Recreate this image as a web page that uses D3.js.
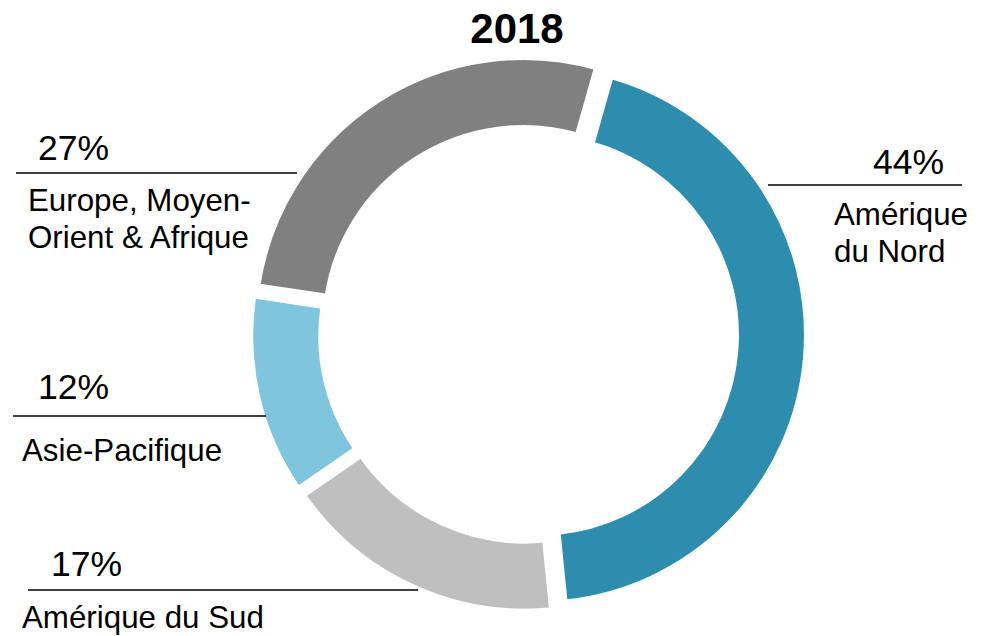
<!DOCTYPE html>
<html>
<head>
<meta charset="utf-8">
<script src="https://cdn.jsdelivr.net/npm/d3@7"></script>
<style>
  body { margin: 0; background: #fff; }
  svg { font-family: "Liberation Sans", Arial, sans-serif; }
</style>
</head>
<body>
<svg id="chart"></svg>
<script>
// data
const regions = ["Amérique du Nord", "Amérique du Sud", "Asie-Pacifique", "Europe, Moyen-Orient & Afrique"];
const shares = [44, 17, 12, 27];
const labelLines = [["Amérique", "du Nord"], ["Amérique du Sud"], ["Asie-Pacifique"], ["Europe, Moyen-", "Orient & Afrique"]];
const colors = ["#2c8daf", "#bfbfbf", "#7ec6de", "#808080"];
const title = "2018";

const W = 999, H = 636;
const cx = 528.5, cy = 334;
const explode = 9.5;
const start = 15.8 * Math.PI / 180;

const svg = d3.select("#chart").attr("width", W).attr("height", H);

svg.append("text")
  .attr("x", 517).attr("y", 43)
  .attr("text-anchor", "middle")
  .attr("font-size", 42).attr("font-weight", "bold")
  .text(title);

const pie = d3.pie().sort(null)
  .startAngle(start)
  .endAngle(start + 2 * Math.PI);

const arc = d3.arc().innerRadius(198.5).outerRadius(268.5);

const slices = pie(shares);

const g = svg.append("g").attr("transform", `translate(${cx},${cy})`);

g.selectAll("path")
  .data(slices)
  .enter()
  .append("path")
   .attr("d", arc)
   .attr("fill", (d, i) => colors[i])
   .attr("stroke", "#fff")
   .attr("stroke-width", 5)
   .attr("transform", d => {
     const a = (d.startAngle + d.endAngle) / 2;
     return `translate(${Math.sin(a) * explode},${-Math.cos(a) * explode})`;
   })
  .append("title")
   .text((d, i) => regions[i]);

// label placement (pct x, pct y, line x1, x2, y, text x, first baseline)
const labelPos = [
  {px: 873, py: 174, x1: 768, x2: 962, ly: 185, tx: 834, ty: 225},
  {px: 51, py: 576, x1: 28, x2: 418, ly: 590, tx: 22, ty: 628},
  {px: 38, py: 399, x1: 13, x2: 266, ly: 416, tx: 22, ty: 461},
  {px: 38, py: 160, x1: 16, x2: 297, ly: 173, tx: 28, ty: 211}
];

const labels = svg.append("g");

slices.forEach((d, i) => {
  const p = labelPos[i];
  labels.append("text")
    .attr("x", p.px).attr("y", p.py)
    .attr("font-size", 35.5)
    .text(shares[i] + "%");
  labels.append("line")
    .attr("x1", p.x1).attr("x2", p.x2)
    .attr("y1", p.ly).attr("y2", p.ly)
    .attr("stroke", "#000").attr("stroke-width", 1.3);
  labelLines[i].forEach((t, j) => {
    labels.append("text")
      .attr("x", p.tx).attr("y", p.ty + j * 37)
      .attr("font-size", 31.3)
      .text(t);
  });
});
</script>
</body>
</html>
